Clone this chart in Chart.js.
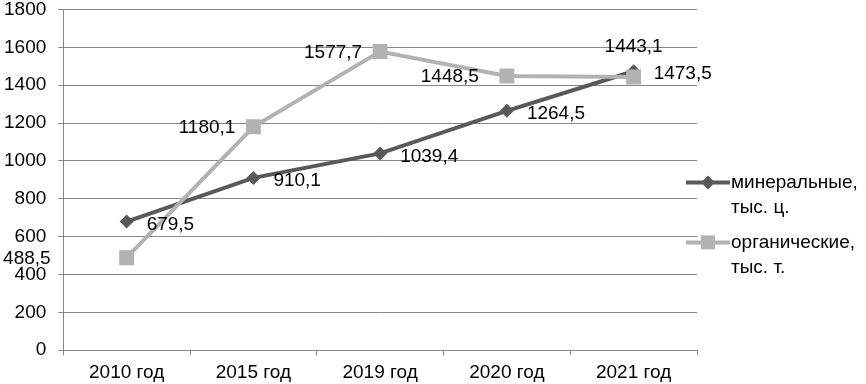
<!DOCTYPE html>
<html>
<head>
<meta charset="utf-8">
<script src="https://cdn.jsdelivr.net/npm/chart.js@4"></script>
<style>
  html, body { margin: 0; padding: 0; background: #fff; overflow: hidden; }
  #wrap { position: absolute; left: -10px; top: -14px; width: 876px; height: 404px; }
</style>
</head>
<body>
<div id="wrap"><canvas id="chart"></canvas></div>
<script>
const years = ["2010 год", "2015 год", "2019 год", "2020 год", "2021 год"];
const mineral = [679.5, 910.1, 1039.4, 1264.5, 1473.5];
const organic = [488.5, 1180.1, 1577.7, 1448.5, 1443.1];
const seriesNames = [["минеральные,", "тыс. ц."], ["органические,", "тыс. т."]];
const yTicks = [0, 200, 400, 600, 800, 1000, 1200, 1400, 1600, 1800];

const darkGray = "#595959";
const lightGray = "#b2b2b2";
const gridGray = "#878787";
const FONT = "Liberation Sans, Arial, sans-serif";

// how far left of the point each organic label sits (last one goes above)
const orgLabelGap = [76, 18, 18, 28, 0];

function fmt(v) {
  return v.toFixed(1).replace(".", ",");
}

const labelsPlugin = {
  id: "valueLabels",
  afterDatasetsDraw(chart) {
    const ctx = chart.ctx;
    ctx.save();
    ctx.font = "19px " + FONT;
    ctx.fillStyle = "#000";
    ctx.textBaseline = "middle";
    chart.getDatasetMeta(0).data.forEach((p, i) => {
      ctx.textAlign = "left";
      ctx.fillText(fmt(mineral[i]), p.x + 20, p.y + 3);
    });
    chart.getDatasetMeta(1).data.forEach((p, i) => {
      if (orgLabelGap[i] === 0) {
        ctx.textAlign = "center";
        ctx.fillText(fmt(organic[i]), p.x, p.y - 30);
      } else {
        ctx.textAlign = "right";
        ctx.fillText(fmt(organic[i]), p.x - orgLabelGap[i], p.y + 1);
      }
    });
    ctx.restore();
  }
};

const legendPlugin = {
  id: "sideLegend",
  afterDraw(chart) {
    const ctx = chart.ctx;
    const area = chart.chartArea;
    const top = area.top + 173;
    const styles = [
      { color: darkGray, shape: "diamond", y: top },
      { color: lightGray, shape: "square", y: top + 60 }
    ];
    ctx.save();
    styles.forEach((s, k) => {
      const x0 = area.right - 11;
      const mx = x0 + 22;
      ctx.strokeStyle = s.color;
      ctx.lineWidth = 4;
      ctx.beginPath();
      ctx.moveTo(x0, s.y);
      ctx.lineTo(x0 + 44, s.y);
      ctx.stroke();
      ctx.fillStyle = s.color;
      ctx.beginPath();
      if (s.shape === "diamond") {
        ctx.moveTo(mx - 7, s.y);
        ctx.lineTo(mx, s.y - 7);
        ctx.lineTo(mx + 7, s.y);
        ctx.lineTo(mx, s.y + 7);
        ctx.closePath();
      } else {
        ctx.rect(mx - 7, s.y - 7, 14, 14);
      }
      ctx.fill();
      ctx.fillStyle = "#000";
      ctx.font = "19px " + FONT;
      ctx.textAlign = "left";
      ctx.textBaseline = "middle";
      seriesNames[k].forEach((line, j) => {
        ctx.fillText(line, x0 + 45, s.y + j * 25);
      });
    });
    ctx.restore();
  }
};

new Chart(document.getElementById("chart"), {
  type: "line",
  data: {
    labels: years,
    datasets: [
      {
        label: seriesNames[0].join(" "),
        data: mineral,
        borderColor: darkGray,
        backgroundColor: darkGray,
        borderWidth: 4,
        pointStyle: "rectRot",
        pointRadius: 7,
        pointBorderWidth: 0,
        tension: 0,
        order: 1
      },
      {
        label: seriesNames[1].join(" "),
        data: organic,
        borderColor: lightGray,
        backgroundColor: lightGray,
        borderWidth: 4,
        pointStyle: "rect",
        pointRadius: 10.5,
        pointBorderWidth: 0,
        tension: 0,
        order: 0
      }
    ]
  },
  options: {
    responsive: true,
    maintainAspectRatio: false,
    animation: false,
    layout: { padding: { left: 2, right: 169, top: 0, bottom: 0 } },
    plugins: {
      legend: { display: false },
      tooltip: { enabled: false }
    },
    scales: {
      x: {
        offset: true,
        grid: {
          display: true,
          offset: true,
          drawOnChartArea: false,
          drawTicks: true,
          tickLength: 5,
          color: gridGray
        },
        border: { color: gridGray, width: 1 },
        ticks: {
          color: "#000",
          font: { family: FONT, size: 19 },
          padding: 6,
          maxRotation: 0
        }
      },
      y: {
        min: 0,
        max: 1800,
        afterBuildTicks(axis) {
          axis.ticks = yTicks.map(v => ({ value: v }));
        },
        grid: {
          color: gridGray,
          lineWidth: 1,
          tickLength: 5
        },
        border: { color: gridGray, width: 1 },
        ticks: {
          color: "#000",
          font: { family: FONT, size: 19 },
          padding: 12,
          callback: v => String(v)
        }
      }
    }
  },
  plugins: [labelsPlugin, legendPlugin]
});
</script>
</body>
</html>
